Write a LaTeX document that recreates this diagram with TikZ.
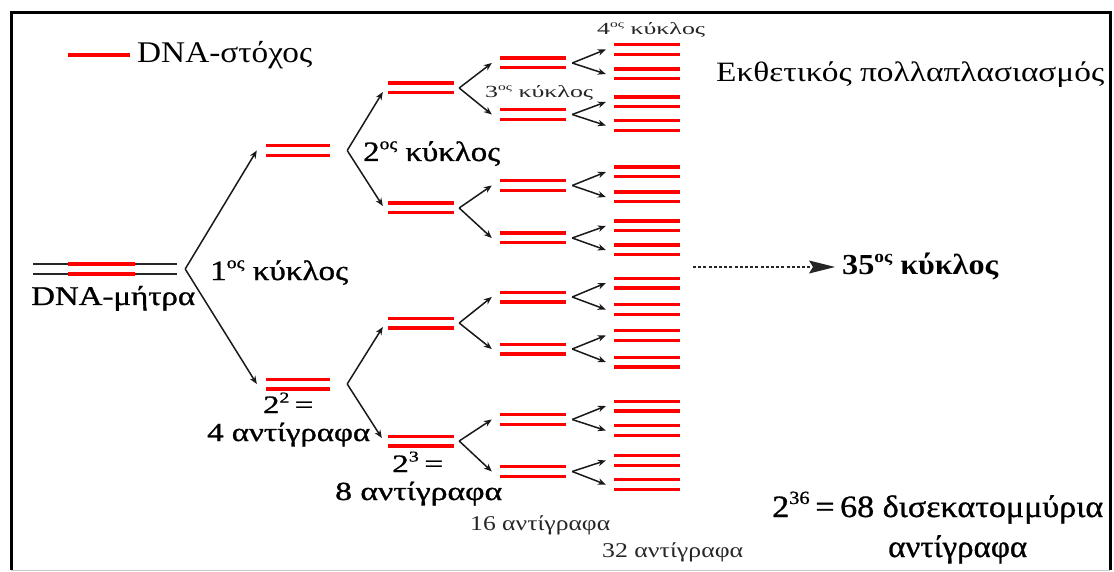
\documentclass[tikz,border=0pt]{standalone}
\usepackage{fontspec}
\setmainfont{Liberation Serif}
\newfontfamily\tnr{Liberation Serif}
\newfontfamily\tnrm{Liberation Serif}[FakeBold=0.9]
\usepackage{graphicx}
\usetikzlibrary{arrows.meta}
\newcommand{\tx}[3]{\resizebox{#1pt}{\height}{\tnr\fontsize{#2}{#2}\selectfont #3}}
\newcommand{\txb}[3]{\resizebox{#1pt}{\height}{\tnrm\fontsize{#2}{#2}\selectfont #3}}
\newcommand{\sups}[1]{\raisebox{0.42em}{\fontsize{0.6em}{0.6em}\selectfont #1}}
\tikzset{
  lbl/.style={inner sep=0pt, anchor=base west, text=black},
  small/.style={lbl, text=black!85},
  pr/.style={minimum width=66pt, minimum height=16pt, inner sep=0pt,
    path picture={
      \draw[red,line width=3.4pt] ([yshift=4.8pt]path picture bounding box.west) -- ([yshift=4.8pt]path picture bounding box.east);
      \draw[red,line width=3.4pt] ([yshift=-4.8pt]path picture bounding box.west) -- ([yshift=-4.8pt]path picture bounding box.east);}},
  matrix dna/.style={minimum width=144pt, minimum height=16pt, inner sep=0pt,
    path picture={
      \draw[black!85,line width=1.4pt] ([yshift=5pt]path picture bounding box.west) -- ([yshift=5pt]path picture bounding box.east);
      \draw[black!85,line width=1.4pt] ([yshift=-5pt]path picture bounding box.west) -- ([yshift=-5pt]path picture bounding box.east);
      \draw[red,line width=3.4pt] ([xshift=35pt,yshift=5pt]path picture bounding box.west) -- ([xshift=102pt,yshift=5pt]path picture bounding box.west);
      \draw[red,line width=3.4pt] ([xshift=35pt,yshift=-5pt]path picture bounding box.west) -- ([xshift=102pt,yshift=-5pt]path picture bounding box.west);}},
  arr/.style={-{Stealth[length=8pt,width=6.5pt]}, line width=1.5pt, black!90},
  dasharr/.style={-{Stealth[length=26pt,width=13pt,inset=4pt]}, line width=1.3pt, black!85, dash pattern=on 3pt off 2.2pt},
}
\begin{document}
\begin{tikzpicture}[x=1pt,y=-1pt]
\useasboundingbox (0,0) rectangle (1114,572);
% frame
\draw[line width=3pt] (11,570) -- (11,13) -- (1110,13) -- (1110,570);
\draw[black!20, line width=1pt] (11,570) -- (1110,570);

% legend
\draw[red, line width=3.4pt] (68,55) -- (130,55);
\node[lbl] (leg) at (137,63) {\tx{175}{30}{DNA-στόχος}};

% template DNA
\node[matrix dna] (M) at (105,269) {};
\node[lbl] (tmat) at (31,305) {\txb{164}{27}{DNA-μήτρα}};

% level 1
\node[pr, minimum width=64pt] (A1) at (298,150.5) {};
\node[pr, minimum width=64pt] (A2) at (298,384) {};
% level 2
\node[pr] (B1) at (421,88) {};
\node[pr] (B2) at (421,208) {};
\node[pr] (B3) at (421,323) {};
\node[pr] (B4) at (421,441) {};
% level 3
\node[pr] (C1) at (533,63) {};
\node[pr] (C2) at (533,114.5) {};
\node[pr] (C3) at (533,185.5) {};
\node[pr] (C4) at (533,238) {};
\node[pr] (C5) at (533,297) {};
\node[pr] (C6) at (533,349) {};
\node[pr] (C7) at (533,419.5) {};
\node[pr] (C8) at (533,471.5) {};
% level 4
\foreach \n/\y in {1/49.5,2/74,3/102,4/125.5,5/172,6/197,7/226,8/250,9/283,10/309.5,11/335.5,12/362,13/406,14/430.5,15/460.5,16/484.5}
  \node[pr] (D\n) at (647,\y) {};

% branch vertices
\coordinate (v0) at ([xshift=8pt]M.east);
\foreach \p in {A1,A2} \coordinate (v\p) at ([xshift=17pt]\p.east);
\foreach \p in {B1,B2,B3,B4} \coordinate (v\p) at ([xshift=5pt]\p.east);
\foreach \p in {C1,C2,C3,C4,C5,C6,C7,C8} \coordinate (v\p) at ([xshift=6pt]\p.east);

% arrows
\draw[arr] (v0) -- ([xshift=-9pt]A1.west);
\draw[arr] (v0) -- ([xshift=-9pt]A2.west);
\draw[arr] (vA1) -- ([xshift=-5pt,yshift=-4pt]B1.west);
\draw[arr] (vA1) -- ([xshift=-5pt,yshift=2pt]B2.west);
\draw[arr] (vA2) -- ([xshift=-5pt,yshift=-4pt]B3.west);
\draw[arr] (vA2) -- ([xshift=-6pt,yshift=3pt]B4.west);
\foreach \p/\a/\b in {B1/C1/C2,B2/C3/C4,B3/C5/C6,B4/C7/C8}{
  \draw[arr] (v\p) -- ([xshift=-8pt]\a.west);
  \draw[arr] (v\p) -- ([xshift=-8pt]\b.west);}
\foreach \p/\a/\b in {C1/D1/D2,C2/D3/D4,C3/D5/D6,C4/D7/D8,C5/D9/D10,C6/D11/D12,C7/D13/D14,C8/D15/D16}{
  \draw[arr] (v\p) -- ([xshift=-8pt]\a.west);
  \draw[arr] (v\p) -- ([xshift=-8pt]\b.west);}

% labels
\node[lbl] (k1) at (210,280) {\txb{138}{28}{1\sups{ος} κύκλος}};
\node[lbl] (k2) at (363,161) {\txb{137}{28}{2\sups{ος} κύκλος}};
\node[small] (k3) at (485,98) {\tx{108}{17}{3\sups{ος} κύκλος}};
\node[small] (k4) at (597,35) {\tx{108}{17}{4\sups{ος} κύκλος}};
\node[lbl] (ek) at (716,82) {\tx{388}{28}{Εκθετικός πολλαπλασιασμός}};
\node[lbl] (e2) at (263,413) {\txb{50}{25}{2\sups{2}\,=}};
\node[lbl] (c4) at (207,441) {\txb{163}{26}{4 αντίγραφα}};
\node[lbl] (e3) at (392,472) {\txb{51}{25}{2\sups{3}\,=}};
\node[lbl] (c8) at (335,500) {\txb{167}{26}{8 αντίγραφα}};
\node[small] (c16) at (470,530) {\tx{140}{21}{16 αντίγραφα}};
\node[small] (c32) at (602,557) {\tx{141}{21}{32 αντίγραφα}};
\node[lbl] (k35) at (842,275) {\tx{156}{29}{\bfseries 35\sups{ος} κύκλος}};
\node[lbl] (big) at (772,517) {\txb{331}{31}{2\sups{36}\,=\,68 δισεκατομμύρια}};
\node[lbl] (big2) at (888,557) {\txb{139}{31}{αντίγραφα}};

% dashed arrow to 35th cycle
\coordinate (ds) at (693,267);
\draw[dasharr] (ds) -- ([xshift=-7pt]ds -| k35.west);
\end{tikzpicture}
\end{document}
